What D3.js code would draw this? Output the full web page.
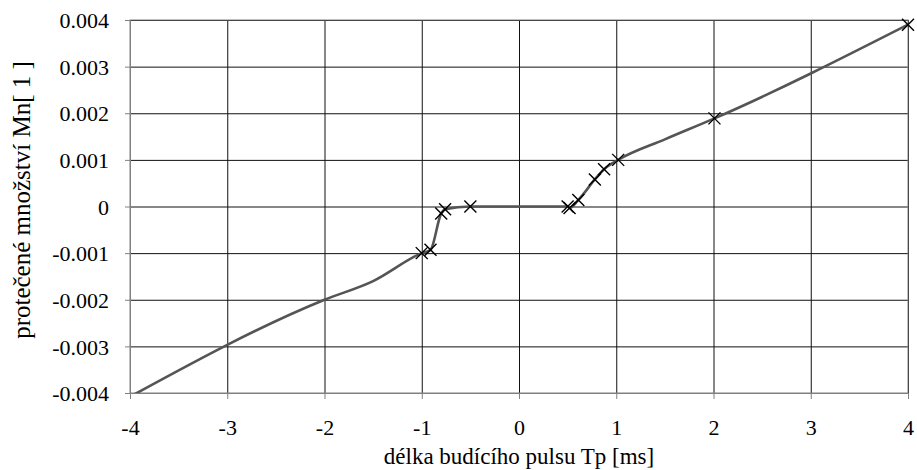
<!DOCTYPE html>
<html>
<head>
<meta charset="utf-8">
<script src="https://cdn.jsdelivr.net/npm/d3@7"></script>
<style>
  body { margin: 0; background: #fff; }
  svg text { font-family: "Liberation Serif", "Times New Roman", serif; }
</style>
</head>
<body>
<svg width="917" height="470"></svg>
<script>
// measured points (drawn with x markers)
var measuredX = [-1, -0.91, -0.8, -0.76, -0.5, 0.5, 0.52, 0.61, 0.78, 0.875, 1.02, 2.01, 4];
var measuredY = [-0.001, -0.00093, -0.00015, -0.00006, 0, 0, -0.00003, 0.00014, 0.00058, 0.0008, 0.001, 0.00189, 0.0039];
// extra vertices of the line without markers
var lineOnlyX = [-4, -2, -1.5, 1.5];
var lineOnlyY = [-0.00408, -0.002, -0.0016, 0.00144];

var xTicks = [-4, -3, -2, -1, 0, 1, 2, 3, 4];
var yTicks = [-0.004, -0.003, -0.002, -0.001, 0, 0.001, 0.002, 0.003, 0.004];

var svg = d3.select("svg"),
    margin = {top: 20, right: 9, bottom: 77, left: 130},
    width = svg.attr("width") - margin.left - margin.right,
    height = svg.attr("height") - margin.top - margin.bottom,
    g = svg.append("g").attr("transform", "translate(" + margin.left + "," + margin.top + ")");

var x = d3.scaleLinear().domain([-4, 4]).range([0, width]),
    y = d3.scaleLinear().domain([-0.004, 0.004]).range([height, 0]);

var measured = measuredX.map(function(d, i) { return {x: d, y: measuredY[i]}; });
var linePts = measured.concat(lineOnlyX.map(function(d, i) { return {x: d, y: lineOnlyY[i]}; }))
    .sort(function(a, b) { return a.x - b.x; });

// plain hyphen instead of the unicode minus
function hyphen(s) { return s.replace("\u2212", "-"); }

// clip so the line stops at the plot frame
g.append("clipPath").attr("id", "plotclip")
  .append("rect").attr("width", width).attr("height", height);

// gridlines
g.append("g")
    .attr("class", "grid")
    .attr("transform", "translate(0," + height + ")")
    .call(d3.axisBottom(x).tickValues(xTicks).tickSize(-height).tickFormat(""))
    .call(function(s) { s.select(".domain").remove(); });

g.append("g")
    .attr("class", "grid")
    .call(d3.axisLeft(y).tickValues(yTicks).tickSize(-width).tickFormat(""))
    .call(function(s) { s.select(".domain").remove(); });

g.selectAll(".grid line").attr("stroke", "#111").attr("stroke-width", 1);

// frame
g.append("rect")
    .attr("x", 0).attr("y", 0)
    .attr("width", width).attr("height", height)
    .attr("fill", "none")
    .attr("stroke", "#808080");

// axes
var xAxis = g.append("g")
    .attr("transform", "translate(0," + height + ")")
    .call(d3.axisBottom(x).tickValues(xTicks).tickSize(6).tickPadding(20)
      .tickFormat(function(d) { return hyphen(d3.format("d")(d)); }));

var yAxis = g.append("g")
    .call(d3.axisLeft(y).tickValues(yTicks).tickSize(5).tickPadding(16)
      .tickFormat(function(d) { return d === 0 ? "0" : hyphen(d3.format(".3f")(d)); }));

[xAxis, yAxis].forEach(function(a) {
  a.attr("font-family", null).attr("font-size", 22);
  a.select(".domain").attr("stroke", "#808080");
  a.selectAll(".tick line").attr("stroke", "#808080");
  a.selectAll(".tick text")
      .attr("fill", "#000")
      .style("font-family", "Liberation Serif, serif");
});
yAxis.selectAll(".tick text").attr("dy", "0.35em");

// axis titles
svg.append("text")
    .attr("x", margin.left + x(0))
    .attr("y", 464)
    .attr("text-anchor", "middle")
    .attr("font-size", 23)
    .text("délka budícího pulsu Tp [ms]");

svg.append("text")
    .attr("transform", "translate(30,200) rotate(-90)")
    .attr("text-anchor", "middle")
    .attr("font-size", 25)
    .text("protečené množství Mn[ 1 ]");

// the line
var line = d3.line()
    .curve(d3.curveMonotoneX)
    .x(function(d) { return x(d.x); })
    .y(function(d) { return y(d.y); });

g.append("path")
    .datum(linePts)
    .attr("clip-path", "url(#plotclip)")
    .attr("d", line)
    .attr("fill", "none")
    .attr("stroke", "#555")
    .attr("stroke-width", 2.6);

// x markers
var m = 6;
g.selectAll(".marker")
  .data(measured)
  .enter().append("path")
    .attr("class", "marker")
    .attr("transform", function(d) { return "translate(" + x(d.x) + "," + y(d.y) + ")"; })
    .attr("d", "M" + (-m) + "," + (-m) + "L" + m + "," + m + "M" + (-m) + "," + m + "L" + m + "," + (-m))
    .attr("stroke", "#000")
    .attr("stroke-width", 1.4)
    .attr("fill", "none");
</script>
</body>
</html>
